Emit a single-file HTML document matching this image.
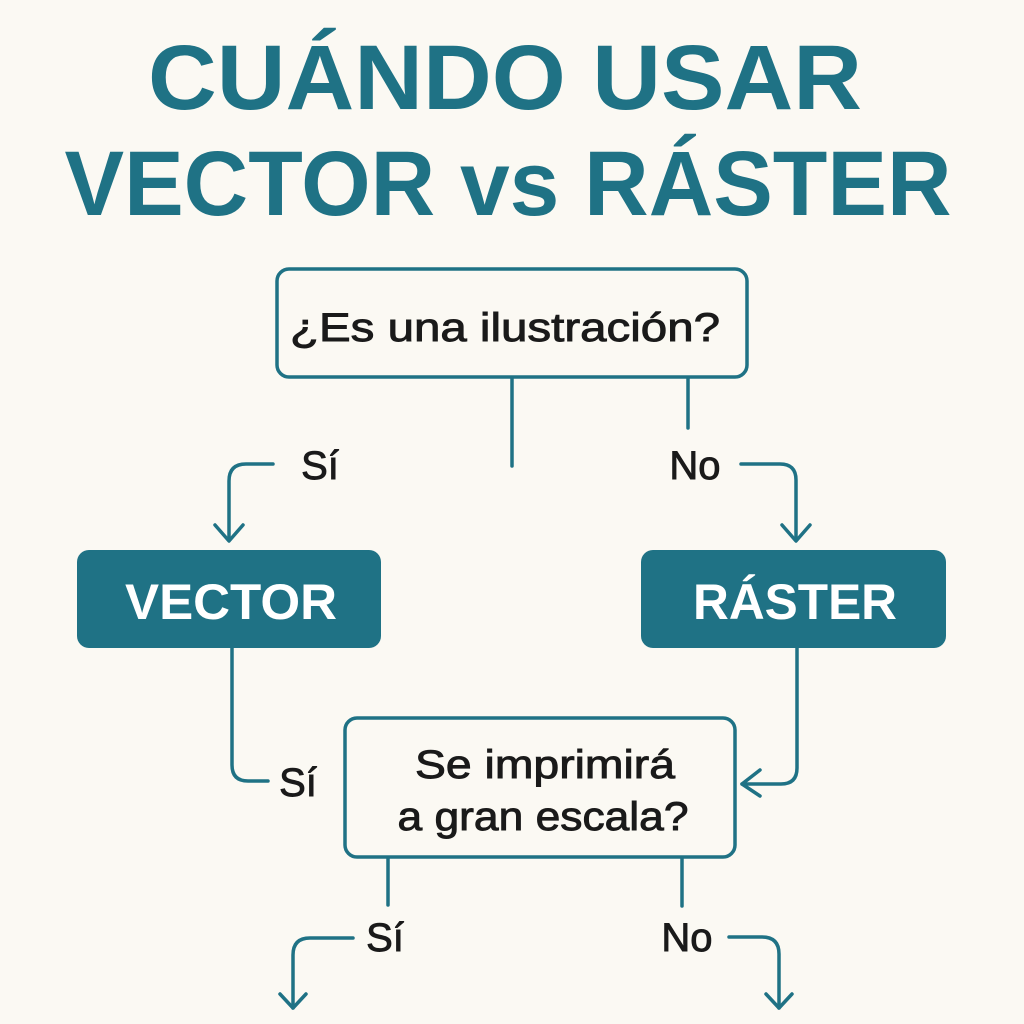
<!DOCTYPE html>
<html><head><meta charset="utf-8"><style>
html,body{margin:0;padding:0;background:#fbf9f3;}
svg{display:block;}
</style></head><body>
<svg width="1024" height="1024" viewBox="0 0 1024 1024" xmlns="http://www.w3.org/2000/svg" font-family="Liberation Sans, sans-serif">
<rect width="1024" height="1024" fill="#fbf9f3"/>
<g fill="#1f7285" font-weight="bold" font-size="92" text-anchor="middle">
<text x="505" y="109" textLength="714" lengthAdjust="spacingAndGlyphs">CUÁNDO USAR</text>
<text x="508" y="215" textLength="887" lengthAdjust="spacingAndGlyphs">VECTOR vs RÁSTER</text>
</g>
<g fill="none" stroke="#1f7285" stroke-width="3.5" stroke-linecap="round" stroke-linejoin="round">
<rect x="277" y="269" width="470" height="108" rx="12"/>
<rect x="345" y="718" width="390" height="139" rx="12"/>
<line x1="512" y1="378" x2="512" y2="466"/>
<line x1="688" y1="378" x2="688" y2="428"/>
<path d="M273 464 H246 Q229 464 229 481 V540"/>
<path d="M215 525 L229 541 L243 525"/>
<path d="M741 464 H780 Q796 464 796 480 V540"/>
<path d="M782 525 L796 541 L810 525"/>
<path d="M232 648 V765 Q232 781 248 781 H268"/>
<path d="M797 648 V768 Q797 784 781 784 H742"/>
<path d="M760 770 L742 784 L760 796"/>
<line x1="388" y1="858" x2="388" y2="905"/>
<line x1="682" y1="858" x2="682" y2="906"/>
<path d="M353 938 H310 Q293 938 293 955 V1008"/>
<path d="M280 994 L293 1008 L306 994"/>
<path d="M729 937 H762 Q779 937 779 954 V1008"/>
<path d="M766 994 L779 1008 L792 994"/>
</g>
<rect x="77" y="550" width="304" height="98" rx="12" fill="#1f7285"/>
<rect x="641" y="550" width="305" height="98" rx="12" fill="#1f7285"/>
<g fill="#fff" font-weight="bold" font-size="50" text-anchor="middle">
<text x="231" y="619" textLength="212" lengthAdjust="spacingAndGlyphs">VECTOR</text>
<text x="795" y="619" textLength="204" lengthAdjust="spacingAndGlyphs">RÁSTER</text>
</g>
<g fill="#1a1a1a" stroke="#1a1a1a" stroke-width="0.9" font-size="40" text-anchor="middle">
<text x="505" y="341" textLength="430" lengthAdjust="spacingAndGlyphs">¿Es una ilustración?</text>
<text x="545" y="778" textLength="260" lengthAdjust="spacingAndGlyphs">Se imprimirá</text>
<text x="543" y="830" textLength="291" lengthAdjust="spacingAndGlyphs">a gran escala?</text>
</g>
<g fill="#1a1a1a" stroke="#1a1a1a" stroke-width="0.9" font-size="40" text-anchor="middle">
<text x="320" y="479">Sí</text>
<text x="695" y="479">No</text>
<text x="298" y="796">Sí</text>
<text x="385" y="951">Sí</text>
<text x="687" y="951">No</text>
</g>
</svg>
</body></html>
